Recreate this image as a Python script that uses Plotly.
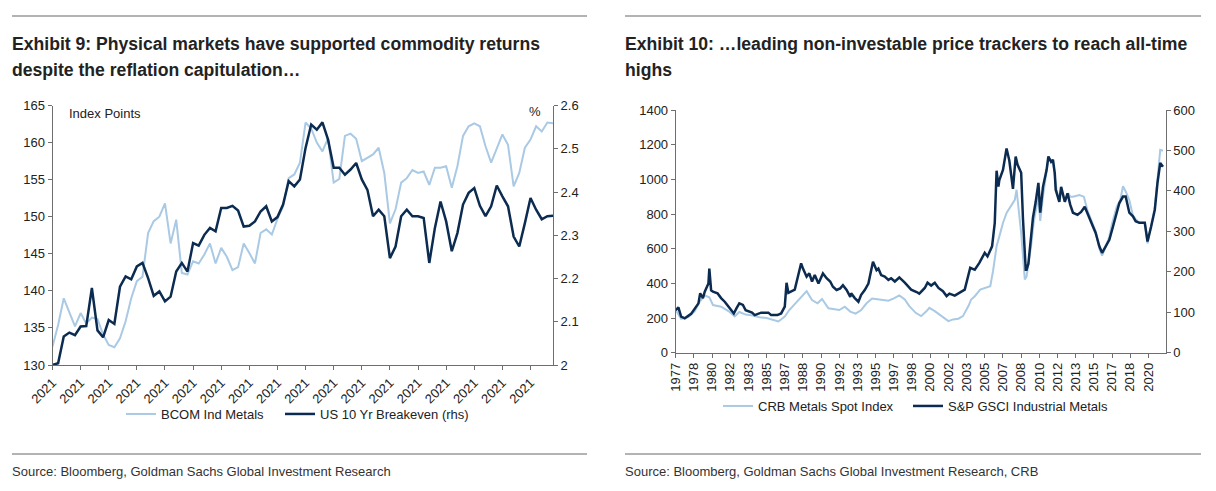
import plotly.graph_objects as go

# The page body adds an 8px margin, so the figure is drawn 8px in from the window corner.
OFF = 8
W, H = 1200, 475
def px(x): return (x - OFF) / W
def py(y): return 1 - (y - OFF) / H

# ---------------- Left chart data (Exhibit 9) ----------------
left_ticklabels = ["2021"] * 18
bcom = [132.5,135.4,139.0,137.0,135.2,137.0,135.6,136.4,136.2,134.1,
        132.7,132.4,133.6,135.9,139.0,141.3,141.9,147.8,149.4,150.0,
        151.8,146.4,149.6,142.4,142.2,144.0,143.7,144.9,146.4,143.7,
        145.8,144.6,142.8,143.2,146.4,145.1,143.7,147.8,148.3,147.6,
        149.7,151.4,155.2,155.7,157.3,162.7,161.9,160.0,158.8,160.6,
        154.6,155.1,160.9,161.2,160.5,157.5,157.9,158.4,159.3,155.9,
        149.1,151.0,154.6,155.2,156.3,155.9,156.1,154.3,156.6,156.6,
        156.8,153.9,156.8,160.9,162.2,162.6,162.2,159.5,157.3,159.3,
        161.1,159.7,154.1,155.9,159.3,160.4,162.2,161.5,162.7,162.6]
breakeven = [2.000,2.004,2.066,2.075,2.069,2.089,2.090,2.178,2.080,2.064,
             2.104,2.095,2.181,2.205,2.198,2.228,2.236,2.201,2.160,2.170,
             2.147,2.158,2.216,2.236,2.216,2.282,2.276,2.301,2.317,2.309,
             2.363,2.363,2.368,2.357,2.320,2.322,2.332,2.355,2.367,2.332,
             2.342,2.371,2.425,2.413,2.429,2.502,2.556,2.544,2.561,2.521,
             2.456,2.456,2.440,2.452,2.467,2.429,2.405,2.344,2.359,2.344,
             2.247,2.274,2.344,2.359,2.344,2.344,2.340,2.236,2.317,2.378,
             2.332,2.263,2.305,2.371,2.398,2.409,2.368,2.344,2.367,2.415,
             2.390,2.367,2.297,2.274,2.328,2.386,2.359,2.337,2.344,2.345]
obs = list(range(len(bcom)))

# ---------------- Right chart data (Exhibit 10) ----------------
crb_dates = ["1977-01","1977-07","1978-03","1978-10","1979-03","1979-09","1980-02","1980-06",
             "1981-03","1981-11","1982-06","1982-11","1983-06","1984-02","1984-09","1985-05",
             "1986-06","1987-01","1987-06","1988-01","1988-09","1989-01","1989-07","1990-01",
             "1990-06","1991-01","1992-01","1992-07","1993-01","1993-07","1994-01","1994-07",
             "1995-01","1995-07","1996-01","1996-07","1997-01","1997-07","1998-01","1998-06",
             "1999-01","1999-07","2000-01","2000-04","2000-10","2001-03","2001-09","2002-01",
             "2002-06","2002-12","2003-05","2003-11","2004-02","2004-06","2004-12","2005-05",
             "2005-11","2006-02","2006-06","2006-09","2007-01","2007-05","2007-10","2008-02",
             "2008-04","2008-07","2008-09","2009-01","2009-03","2009-08","2009-11","2010-04",
             "2010-06","2010-09","2011-01","2011-03","2011-06","2011-08","2011-10","2011-12",
             "2012-03","2012-05","2012-09","2013-01","2013-03","2013-06","2014-01","2014-06",
             "2014-10","2015-04","2015-07","2015-11","2016-02","2016-06","2016-10","2017-01",
             "2017-06","2017-10","2018-01","2018-04","2018-08","2018-12","2019-03","2019-07",
             "2020-01","2020-04","2020-08","2020-12","2021-03","2021-06","2021-09"]
crb = [246,195,205,240,290,330,320,275,
       265,240,210,235,220,215,205,200,
       180,208,246,285,333,355,304,285,
       310,256,246,265,237,225,246,285,
       313,310,304,300,313,330,307,269,
       230,211,240,259,240,221,201,182,
       192,196,211,269,307,326,364,374,
       384,470,614,671,748,806,853,882,
       940,806,690,422,440,618,760,900,
       760,900,1050,1120,1100,1110,1020,940,
       870,950,870,920,900,900,910,900,
       820,745,700,600,560,610,670,745,
       840,880,960,930,880,790,770,750,
       750,630,730,840,1000,1170,1165]

gsci_dates = ["1977-01","1977-04","1977-07","1977-11","1978-06","1979-02","1979-04","1979-07",
              "1979-09","1980-01","1980-02","1980-04","1980-06","1980-11","1981-03","1981-07",
              "1981-11","1982-02","1982-05","1982-08","1982-11","1983-03","1983-06","1984-01",
              "1984-04","1984-11","1985-07","1985-10","1986-05","1986-09","1987-01","1987-03",
              "1987-05","1987-12","1988-04","1988-07","1988-09","1989-01","1989-04","1989-07",
              "1989-10","1990-02","1990-07","1990-11","1991-03","1991-06","1991-10","1992-02",
              "1992-05","1992-09","1993-01","1993-02","1993-06","1993-10","1994-01","1994-05",
              "1994-09","1995-01","1995-02","1995-06","1995-08","1995-11","1996-03","1996-07",
              "1996-10","1997-02","1997-07","1998-01","1998-08","1999-02","1999-05","1999-11",
              "2000-02","2000-06","2000-10","2001-02","2001-07","2001-11","2002-02","2002-08",
              "2003-01","2003-07","2004-01","2004-06","2004-11","2005-05","2005-08","2006-01",
              "2006-04","2006-06","2006-08","2006-09","2007-01","2007-05","2007-08","2007-12",
              "2008-03","2008-05","2008-09","2008-11","2009-02","2009-03","2009-05","2009-08",
              "2009-10","2010-01","2010-04","2010-06","2010-09","2011-01","2011-03","2011-06",
              "2011-08","2011-10","2011-11","2012-03","2012-05","2012-09","2012-12","2013-03",
              "2013-06","2013-11","2014-03","2014-07","2014-10","2015-04","2015-07","2015-11",
              "2016-02","2016-06","2016-10","2017-02","2017-05","2017-09","2018-01","2018-04",
              "2018-08","2018-12","2019-03","2019-07","2020-01","2020-04","2020-08","2020-12",
              "2021-03","2021-06","2021-09"]
gsci = [105,112,89,85,96,122,147,135,
        151,171,208,154,151,147,135,126,
        114,105,97,110,122,118,105,99,
        93,99,99,93,93,97,114,173,
        148,156,192,221,208,188,196,176,
        192,171,196,184,176,163,155,159,
        167,155,138,147,135,126,143,155,
        171,213,225,204,208,192,188,180,
        184,176,186,173,156,150,146,160,
        173,166,173,160,152,140,146,141,
        148,156,210,205,222,247,238,263,
        321,450,411,427,452,505,475,405,
        485,465,445,330,205,205,220,279,
        334,373,420,346,410,452,485,472,
        477,444,403,373,410,373,394,366,
        346,341,348,361,346,312,296,263,
        247,263,279,312,337,370,386,386,
        346,337,325,321,321,275,312,353,
        420,469,460]

LIGHT = "#a9c9e4"
DARK = "#0c2b50"
AXIS = "#6e6e6e"
TXT = "#222222"
FONT = "Liberation Sans, Arial, sans-serif"

fig = go.Figure()
fig.add_trace(go.Scatter(x=obs, y=bcom, mode="lines", name="BCOM Ind Metals",
                         line=dict(color=LIGHT, width=2), xaxis="x", yaxis="y", legend="legend"))
fig.add_trace(go.Scatter(x=obs, y=breakeven, mode="lines", name="US 10 Yr Breakeven (rhs)",
                         line=dict(color=DARK, width=2.5), xaxis="x", yaxis="y2", legend="legend2"))
fig.add_trace(go.Scatter(x=crb_dates, y=crb, mode="lines", name="CRB Metals Spot Index",
                         line=dict(color=LIGHT, width=2), xaxis="x2", yaxis="y3", legend="legend3"))
fig.add_trace(go.Scatter(x=gsci_dates, y=gsci, mode="lines", name="S&P GSCI Industrial Metals",
                         line=dict(color=DARK, width=2.5), xaxis="x2", yaxis="y4", legend="legend4"))

ax_common = dict(showline=True, linecolor=AXIS, linewidth=1, ticks="outside", ticklen=4,
                 tickcolor=AXIS, showgrid=False, zeroline=False, automargin=False,
                 tickfont=dict(family=FONT, size=13, color=TXT))

def leg(x_text, y):
    return dict(orientation="h", x=px(x_text - 42), y=py(y), xanchor="left", yanchor="middle",
                font=dict(family=FONT, size=13, color=TXT), bgcolor="rgba(0,0,0,0)")

fig.update_layout(
    template="none",
    width=W, height=H, margin=dict(l=0, r=0, t=0, b=0, autoexpand=False),
    paper_bgcolor="white", plot_bgcolor="white",
    xaxis=dict(domain=[px(52.5), px(553)], anchor="y", range=[0, len(bcom) - 1],
               tickmode="array", tickvals=obs[::5][:len(left_ticklabels)], ticktext=left_ticklabels,
               tickangle=-45, **ax_common),
    yaxis=dict(domain=[py(365), py(105.5)], anchor="x", range=[130, 165], dtick=5, **ax_common),
    yaxis2=dict(overlaying="y", side="right", anchor="x", range=[2.0, 2.6], dtick=0.1,
                tickformat="~r", **ax_common),
    xaxis2=dict(domain=[px(675.7), px(1165.7)], anchor="y3", type="date",
                range=["1977-01-01", "2021-12-01"], tick0="1977-01-01", dtick="M20",
                tickformat="%Y", tickangle=-90, **ax_common),
    yaxis3=dict(domain=[py(352.7), py(110)], anchor="x2", range=[0, 1400], dtick=200, **ax_common),
    yaxis4=dict(overlaying="y3", side="right", anchor="x2", range=[0, 600], dtick=100, **ax_common),
    legend=leg(163, 414),
    legend2=leg(322, 414),
    legend3=leg(760, 406),
    legend4=leg(950, 406),
    showlegend=True,
)

# Rules
for x0, x1 in [(12, 587), (625, 1201)]:
    fig.add_shape(type="line", xref="paper", yref="paper", x0=px(x0), x1=px(x1),
                  y0=py(16), y1=py(16), line=dict(color="#b3b3b3", width=2))
    fig.add_shape(type="line", xref="paper", yref="paper", x0=px(x0), x1=px(x1),
                  y0=py(454), y1=py(454), line=dict(color="#b3b3b3", width=2))

def text(x, y, s, size, bold=False, family=FONT, color=TXT, anchor="left"):
    fig.add_annotation(xref="paper", yref="paper", x=px(x), y=py(y), text=(f"<b>{s}</b>" if bold else s),
                       showarrow=False, xanchor=anchor, yanchor="middle",
                       font=dict(family=family, size=size, color=color))

text(10, 44, "Exhibit 9: Physical markets have supported commodity returns", 17.6, bold=True)
text(10, 70, "despite the reflation capitulation…", 17.6, bold=True)
text(623, 44, "Exhibit 10: …leading non-investable price trackers to reach all-time", 17.6, bold=True)
text(623, 70, "highs", 17.6, bold=True)
text(10, 471, "Source: Bloomberg, Goldman Sachs Global Investment Research", 13, color="#333333")
text(623, 471, "Source: Bloomberg, Goldman Sachs Global Investment Research, CRB", 13, color="#333333")
text(67, 113, "Index Points", 13)
text(527, 111, "%", 13)

fig.write_html("out.html")
